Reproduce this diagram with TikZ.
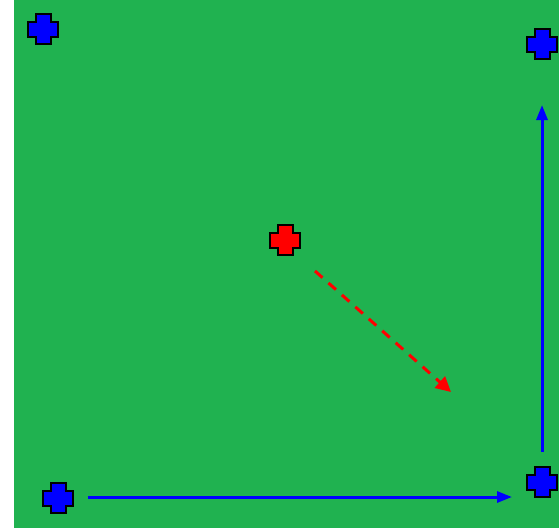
\documentclass[tikz,border=0pt]{standalone}
\usetikzlibrary{arrows.meta}
\definecolor{bggreen}{RGB}{32,178,80}
\begin{document}
\begin{tikzpicture}[x=1pt,y=-1pt,
  crossmark/.pic={\path[pic actions,draw=black,line width=2pt]
    (-7.5,-15) -- (7.5,-15) -- (7.5,-7.5) -- (15,-7.5) -- (15,7.5) -- (7.5,7.5)
    -- (7.5,15) -- (-7.5,15) -- (-7.5,7.5) -- (-15,7.5) -- (-15,-7.5) -- (-7.5,-7.5) -- cycle;},
  bluearrow/.style={draw=blue,line width=3pt,-{Triangle[length=15pt,width=11pt]}},
  redarrow/.style={draw=red,line width=3pt,dash pattern=on 10pt off 8pt,-{Triangle[length=15pt,width=15pt]}}]
\useasboundingbox (0,0) rectangle (559,528);
\fill[white] (0,0) rectangle (559,528);
\fill[bggreen] (14,0) rectangle (559,528);
\pic[fill=blue] at (43,29) {crossmark};
\pic[fill=blue] at (542,44) {crossmark};
\pic[fill=blue] at (542,482) {crossmark};
\pic[fill=blue] at (58,498) {crossmark};
\pic[fill=red] at (285,240) {crossmark};
\coordinate (h1) at (88,497);
\coordinate (h2) at (512,497);
\coordinate (v1) at (542,452);
\coordinate (v2) at (542,105);
\coordinate (r1) at (315,271);
\coordinate (r2) at (451,392);
\draw[bluearrow] (h1) -- (h2);
\draw[bluearrow] (v1) -- (v2);
\draw[redarrow] (r1) -- (r2);
\end{tikzpicture}
\end{document}
